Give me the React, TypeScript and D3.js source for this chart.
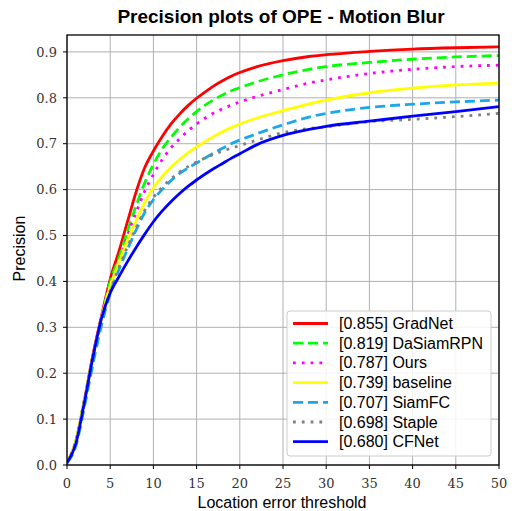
import React from "react";
import * as d3 from "d3";

const thresholds = [0, 1, 2, 3, 4, 5, 6, 7, 8, 9, 10, 11, 12, 13, 14, 15, 16, 17, 18, 19, 20, 22, 25, 28, 30, 35, 40, 45, 50];

const gradnet = [0.005, 0.05, 0.14, 0.24, 0.325, 0.405, 0.465, 0.53, 0.595, 0.648, 0.684, 0.715, 0.742, 0.764, 0.783, 0.799, 0.813, 0.826, 0.837, 0.847, 0.855, 0.868, 0.881, 0.89, 0.894, 0.901, 0.906, 0.909, 0.911];
const dasiam = [0.005, 0.05, 0.14, 0.235, 0.32, 0.4, 0.45, 0.51, 0.565, 0.615, 0.655, 0.688, 0.713, 0.735, 0.754, 0.77, 0.784, 0.796, 0.806, 0.815, 0.822, 0.835, 0.85, 0.862, 0.868, 0.877, 0.884, 0.889, 0.892];
const ours = [0.005, 0.05, 0.14, 0.235, 0.32, 0.395, 0.44, 0.5, 0.55, 0.597, 0.633, 0.665, 0.69, 0.71, 0.728, 0.743, 0.756, 0.767, 0.776, 0.784, 0.791, 0.803, 0.818, 0.832, 0.839, 0.853, 0.862, 0.868, 0.871];
const baseline = [0.005, 0.05, 0.14, 0.235, 0.32, 0.39, 0.44, 0.49, 0.532, 0.572, 0.604, 0.628, 0.648, 0.665, 0.68, 0.693, 0.705, 0.716, 0.726, 0.735, 0.743, 0.756, 0.772, 0.787, 0.795, 0.811, 0.821, 0.828, 0.832];
const siamfc = [0.005, 0.04, 0.125, 0.22, 0.305, 0.375, 0.425, 0.47, 0.512, 0.55, 0.578, 0.6, 0.619, 0.635, 0.647, 0.658, 0.669, 0.68, 0.69, 0.7, 0.708, 0.722, 0.741, 0.758, 0.766, 0.779, 0.786, 0.791, 0.795];
const staple = [0.005, 0.05, 0.14, 0.235, 0.315, 0.38, 0.43, 0.475, 0.517, 0.555, 0.583, 0.605, 0.623, 0.638, 0.65, 0.66, 0.669, 0.677, 0.684, 0.69, 0.696, 0.708, 0.724, 0.733, 0.737, 0.748, 0.753, 0.759, 0.766];
const cfnet = [0.005, 0.045, 0.135, 0.235, 0.32, 0.375, 0.41, 0.443, 0.474, 0.503, 0.53, 0.553, 0.573, 0.591, 0.607, 0.621, 0.634, 0.646, 0.657, 0.668, 0.678, 0.698, 0.718, 0.731, 0.738, 0.749, 0.76, 0.77, 0.781];

const seriesNames = ["GradNet", "DaSiamRPN", "Ours", "baseline", "SiamFC", "Staple", "CFNet"];
const seriesScores = ["0.855", "0.819", "0.787", "0.739", "0.707", "0.698", "0.680"];
const seriesValues = [gradnet, dasiam, ours, baseline, siamfc, staple, cfnet];
const seriesColors = ["#ff0000", "#00ff00", "#ff00ff", "#ffff00", "#1aa7ec", "#808080", "#0000ff"];
const seriesDash = ["none", "10,5", "2.8,6", "none", "10,5", "2.8,6", "none"];

const xTicks = [0, 5, 10, 15, 20, 25, 30, 35, 40, 45, 50];
const yTicks = [0, 0.1, 0.2, 0.3, 0.4, 0.5, 0.6, 0.7, 0.8, 0.9];

const title = "Precision plots of OPE - Motion Blur";
const xLabel = "Location error threshold";
const yLabel = "Precision";

export default function App() {
  const left = 67, right = 499, top = 35, bottom = 465;
  const x = d3.scaleLinear().domain([0, 50]).range([left, right]);
  const y = d3.scaleLinear().domain([0, (bottom - top) / 459]).range([bottom, top]);
  const line = d3
    .line<number>()
    .x((_, i) => x(thresholds[i]))
    .y((d) => y(d))
    .curve(d3.curveMonotoneX);

  const legX = 287, legY = 311, legW = 204, legH = 145;
  const rowH = 19.7;
  const sans = "'Liberation Sans', Arial, sans-serif";
  const serif = "'DejaVu Serif', serif";

  return (
    <svg width={512} height={511} style={{ position: "absolute", left: 0, top: 0, background: "#fff" }}>
      <defs>
        <clipPath id="plotclip">
          <rect x={left} y={top} width={right - left} height={bottom - top} />
        </clipPath>
      </defs>
      <rect x={0} y={0} width={512} height={511} fill="#fff" />
      {xTicks.map((t) => (
        <line key={"gx" + t} x1={x(t)} x2={x(t)} y1={top} y2={bottom} stroke="#b0b0b0" strokeWidth={1} />
      ))}
      {yTicks.map((t) => (
        <line key={"gy" + t} x1={left} x2={right} y1={y(t)} y2={y(t)} stroke="#b0b0b0" strokeWidth={1} />
      ))}
      <g clipPath="url(#plotclip)">
        {seriesValues.map((vals, i) => (
          <path
            key={seriesNames[i]}
            d={line(vals) || ""}
            fill="none"
            stroke={seriesColors[i]}
            strokeWidth={2.8}
            strokeDasharray={seriesDash[i]}
            strokeLinejoin="round"
          />
        ))}
      </g>
      <rect x={left} y={top} width={right - left} height={bottom - top} fill="none" stroke="#000" strokeWidth={1.3} />
      {xTicks.map((t) => (
        <g key={"tx" + t}>
          <line x1={x(t)} x2={x(t)} y1={bottom} y2={bottom + 4} stroke="#000" strokeWidth={1} />
          <text x={x(t)} y={487.5} textAnchor="middle" fontFamily={serif} fontSize={13} fill="#333">
            {t}
          </text>
        </g>
      ))}
      {yTicks.map((t) => (
        <g key={"ty" + t}>
          <line x1={left - 4} x2={left} y1={y(t)} y2={y(t)} stroke="#000" strokeWidth={1} />
          <text x={57} y={y(t) + 4.7} textAnchor="end" fontFamily={serif} fontSize={13} fill="#333">
            {t.toFixed(1)}
          </text>
        </g>
      ))}
      <text x={281} y={23} textAnchor="middle" fontFamily={sans} fontWeight="bold" fontSize={19} fill="#000">
        {title}
      </text>
      <text x={282} y={508} textAnchor="middle" fontFamily={sans} fontSize={16} fill="#000">
        {xLabel}
      </text>
      <text transform={`translate(25,248.5) rotate(-90)`} textAnchor="middle" fontFamily={sans} fontSize={16} fill="#000">
        {yLabel}
      </text>
      <rect x={legX} y={legY} width={legW} height={legH} rx={3} fill="#fff" fillOpacity={0.85} stroke="#cccccc" strokeWidth={1} />
      {seriesNames.map((name, i) => {
        const cy = legY + 12.5 + i * rowH;
        return (
          <g key={"leg" + name}>
            <line x1={293} x2={328} y1={cy} y2={cy} stroke={seriesColors[i]} strokeWidth={2.8} strokeDasharray={seriesDash[i]} />
            <text x={339} y={cy + 5.5} fontFamily={sans} fontSize={16} fill="#000">
              {`[${seriesScores[i]}] ${name}`}
            </text>
          </g>
        );
      })}
    </svg>
  );
}
